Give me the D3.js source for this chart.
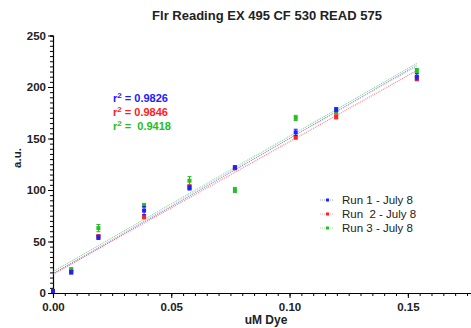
<!DOCTYPE html>
<html>
<head>
<meta charset="utf-8">
<script src="https://cdn.jsdelivr.net/npm/d3@7"></script>
<style>
  body { margin: 0; background: #fff; }
  text { font-family: Arial, "Liberation Sans", sans-serif; }
</style>
</head>
<body>
<div id="chart"></div>
<script>
// concentrations (uM dye)
var dye = [0, 0.0077, 0.0192, 0.0385, 0.0577, 0.0769, 0.1026, 0.1197, 0.1538];
// readings per run
var run1 = [2, 20, 54, 80, 102, 122, 156, 178, 210];
var run2 = [2, 21, 55, 74, 103, 121, 151, 171, 208];
var run3 = [2, 23, 63, 85, 109, 100, 170, 176, 216];
// error bar half-heights
var err1 = [1, 1.5, 2, 4, 2, 1.5, 3, 2, 3];
var err2 = [1, 1, 1.5, 2, 2, 1, 1.5, 2, 2];
var err3 = [1, 1.5, 3.5, 2, 4, 2.5, 2.5, 2, 2];
var runNames = ["Run 1 - July 8", "Run  2 - July 8", "Run 3 - July 8"];
var r2Values = ["0.9826", "0.9846", " 0.9418"];
var xTicks = [0, 0.05, 0.10, 0.15];
var yTicks = [0, 50, 100, 150, 200, 250];

var colors = ["#2020ff", "#ff2020", "#22c022"];
var W = 471, H = 328;

var svg = d3.select("#chart").append("svg")
    .attr("width", W).attr("height", H);

var x = d3.scaleLinear().domain([0, 0.1767]).range([53, 471]);
var y = d3.scaleLinear().domain([0, 250]).range([293, 35.5]);

var series = [
    {name: runNames[0], vals: run1, err: err1, color: colors[0]},
    {name: runNames[1], vals: run2, err: err2, color: colors[1]},
    {name: runNames[2], vals: run3, err: err3, color: colors[2]}
];

// least squares fit for each run
series.forEach(function(s) {
    var mx = d3.mean(dye), my = d3.mean(s.vals);
    var sxy = d3.sum(dye, (d, i) => (d - mx) * (s.vals[i] - my));
    var sxx = d3.sum(dye, d => (d - mx) * (d - mx));
    s.slope = sxy / sxx;
    s.icpt = my - s.slope * mx;
});

// x axis
svg.append("g")
    .attr("transform", "translate(0," + y(0) + ")")
    .call(d3.axisBottom(x).tickValues(d3.range(0, 0.1751, 0.005)).tickSize(3).tickFormat(""))
    .call(g => g.select(".domain").attr("stroke-width", 1.2));
svg.append("g")
    .attr("transform", "translate(0," + y(0) + ")")
    .call(d3.axisBottom(x).tickValues(xTicks).tickSize(5).tickFormat(d3.format(".2f")))
    .call(g => g.select(".domain").remove())
    .call(g => g.selectAll("text").attr("dy", "0.9em")
        .style("font-size", "11.5px").style("font-weight", "bold").attr("fill", "#222"));

// y axis
svg.append("g")
    .attr("transform", "translate(" + x(0) + ",0)")
    .call(d3.axisLeft(y).tickValues(d3.range(0, 251, 5)).tickSize(3).tickFormat(""))
    .call(g => g.select(".domain").attr("stroke-width", 1.2));
svg.append("g")
    .attr("transform", "translate(" + x(0) + ",0)")
    .call(d3.axisLeft(y).tickValues(yTicks).tickSize(5))
    .call(g => g.select(".domain").remove())
    .call(g => g.selectAll("text").attr("x", -7)
        .style("font-size", "11.5px").style("font-weight", "bold").attr("fill", "#222"));

// fit lines
var lines = svg.append("g");
series.forEach(function(s) {
    var x0 = d3.min(dye), x1 = d3.max(dye);
    lines.append("line")
        .attr("x1", x(x0)).attr("y1", y(s.icpt + s.slope * x0))
        .attr("x2", x(x1)).attr("y2", y(s.icpt + s.slope * x1))
        .attr("stroke", s.color)
        .attr("stroke-opacity", 0.55)
        .attr("stroke-width", 1.2)
        .attr("stroke-dasharray", "1,1");
});

// points + error bars (green, red, blue order)
[series[2], series[1], series[0]].forEach(function(s) {
    var g = svg.append("g");
    var pts = dye.map((d, i) => ({x: d, y: s.vals[i], e: s.err[i]}));
    g.selectAll("path.eb")
        .data(pts)
        .join("path")
        .attr("class", "eb")
        .attr("d", d => {
            var cx = x(d.x), t = y(d.y + d.e), b = y(d.y - d.e);
            return "M" + (cx - 2) + "," + t + "H" + (cx + 2) + "M" + cx + "," + t + "V" + b +
                "M" + (cx - 2) + "," + b + "H" + (cx + 2);
        })
        .attr("stroke", s.color)
        .attr("stroke-width", 1)
        .attr("fill", "none");
    g.selectAll("rect")
        .data(pts)
        .join("rect")
        .attr("x", d => x(d.x) - 2)
        .attr("y", d => y(d.y) - 2)
        .attr("width", 4)
        .attr("height", 4)
        .attr("fill", s.color);
});

// r² labels
var r2 = svg.selectAll(".r2")
    .data(series)
    .join("text")
    .attr("class", "r2")
    .attr("x", 113)
    .attr("y", (d, i) => 102 + i * 14)
    .attr("fill", d => d.color)
    .style("font-size", "11px")
    .style("font-weight", "bold")
    .style("white-space", "pre");
r2.append("tspan").text("r");
r2.append("tspan").attr("dy", -4).style("font-size", "8px").text("2");
r2.append("tspan").attr("dy", 4).text((d, i) => " = " + r2Values[i]);

// legend
var leg = svg.append("g").attr("transform", "translate(320,200)");
series.forEach(function(s, i) {
    var row = leg.append("g").attr("transform", "translate(0," + i * 14 + ")");
    row.append("line")
        .attr("x1", 0).attr("x2", 13)
        .attr("stroke", s.color).attr("stroke-opacity", 0.45)
        .attr("stroke-dasharray", "1,1");
    row.append("rect")
        .attr("x", 6).attr("y", -1.5).attr("width", 3).attr("height", 3)
        .attr("fill", s.color);
    row.append("text")
        .attr("x", 22).attr("y", 4)
        .style("font-size", "11.5px")
        .attr("fill", "#222")
        .style("white-space", "pre")
        .text(s.name);
});

// title and axis labels
svg.append("text")
    .attr("x", 267).attr("y", 20)
    .attr("text-anchor", "middle")
    .style("font-size", "13px").style("font-weight", "bold")
    .attr("fill", "#222")
    .text("Flr Reading EX 495 CF 530 READ 575");

svg.append("text")
    .attr("x", 266).attr("y", 324)
    .attr("text-anchor", "middle")
    .style("font-size", "12px").style("font-weight", "bold")
    .attr("fill", "#222")
    .text("uM Dye");

svg.append("text")
    .attr("transform", "translate(21,158) rotate(-90)")
    .attr("text-anchor", "middle")
    .style("font-size", "11.5px").style("font-weight", "bold")
    .attr("fill", "#222")
    .text("a.u.");
</script>
</body>
</html>
